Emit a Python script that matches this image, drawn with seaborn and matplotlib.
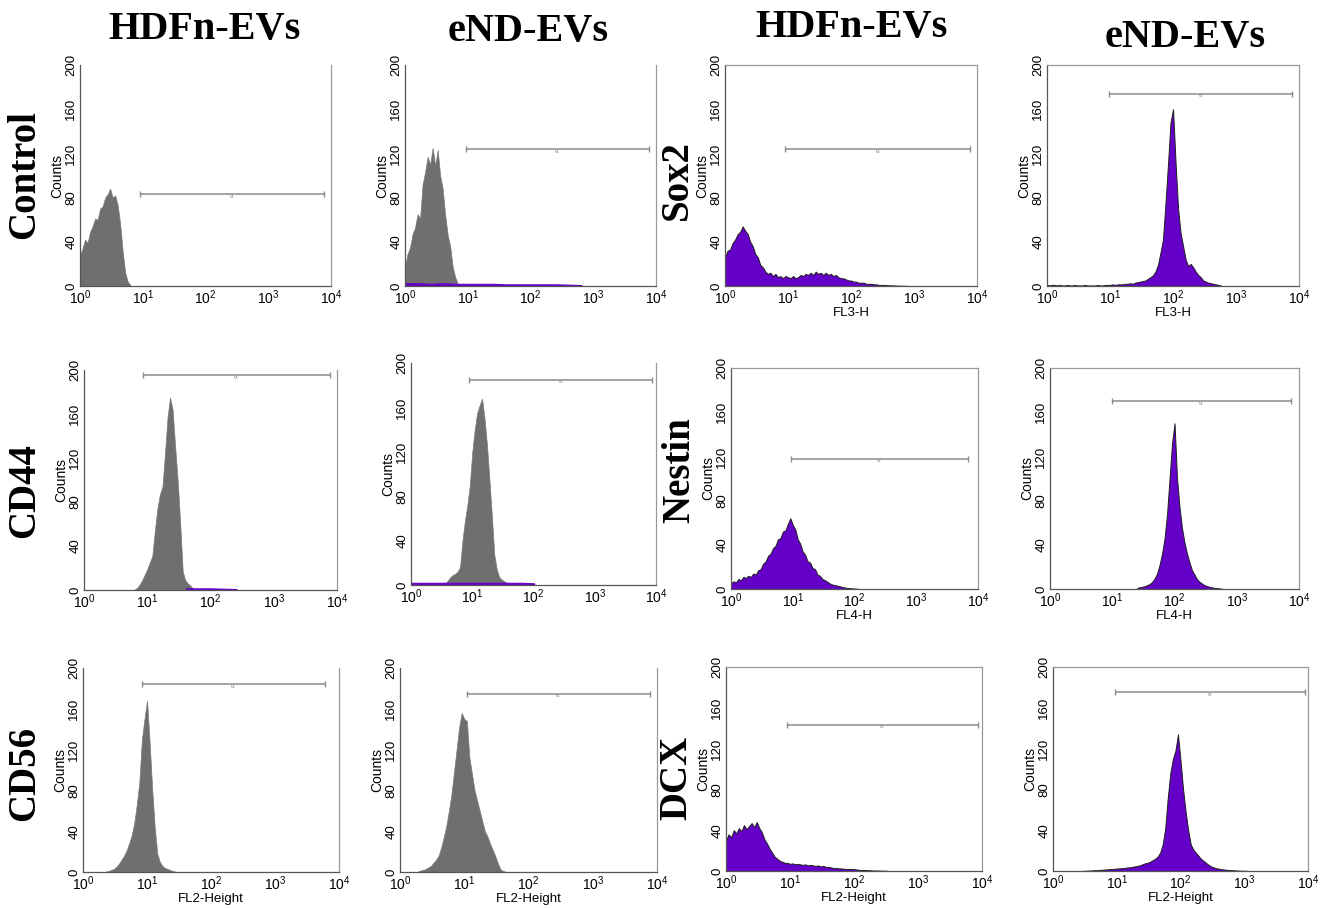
import numpy as np
import pandas as pd
import matplotlib
matplotlib.use("Agg")
import matplotlib.pyplot as plt
import seaborn as sns

# ---------------- data (log10 position of first bin + counts per 0.04-decade bin) -------------
BIN = 0.04

ctrl_hdfn_start = 0.00
ctrl_hdfn = [28, 34, 42, 39, 49, 54, 61, 60, 70, 72, 80, 83, 88, 80, 82, 73, 56, 31, 12, 4, 1]

ctrl_end_start = 0.00
ctrl_end = [18, 29, 35, 47, 53, 65, 61, 92, 103, 117, 110, 125, 109, 123, 100, 88, 64, 46, 36, 17, 8, 2]

sox2_hdfn_start = 0.00
sox2_hdfn = [26, 32, 33, 39, 42, 47, 49, 54, 50, 47, 40, 36, 29, 26, 19, 17, 13, 11, 12, 9,
             11, 8, 9, 7, 9, 8, 7, 9, 7, 8, 10, 9, 11, 10, 12, 10, 13, 11, 12, 10,
             12, 10, 11, 9, 10, 8, 7, 7, 6, 5, 5, 4, 4, 3, 3, 3, 2, 2, 2, 1.5,
             1.5, 1, 1, 1, 0.8, 0.6, 0.6, 0.5, 0.4, 0.3, 0.3, 0.2, 0.2, 0.1]

sox2_end_start = 0.00
sox2_end = [1, 0.5, 1, 1, 0.5, 1, 0.5, 0.5, 1, 0.5, 0.5, 1, 0.5, 0.5, 0.5, 1, 0.5, 0.5, 0.5, 0.5,
            1, 0.5, 0.5, 1, 1, 1, 1.5, 1, 1.5, 1.5,
            1.5, 2, 2, 2.5, 2, 3, 3.5, 4, 4.5, 5, 6.5, 8, 9.5, 13, 19, 30, 42, 75, 110, 148,
            160, 112, 70, 48, 36, 24, 18, 20, 17, 13, 10, 8, 5, 4, 3, 2.5, 2, 1.5, 1, 0.5]

cd44_hdfn_start = 0.80
cd44_hdfn = [0.5, 2, 5, 9, 14, 19, 25, 31, 54, 74, 87, 94, 124, 157, 175, 164, 131, 100, 61, 17,
             9, 6, 4, 1.5, 0.5]

cd44_end_start = 0.52
cd44_end = [0.3, 1, 4, 7, 9, 10, 12, 16, 40, 58, 72, 90, 120, 140, 155, 162, 168, 150, 126, 95,
            62, 27, 14, 7, 5, 3.5, 2, 1, 0.3]

nestin_hdfn_start = 0.00
nestin_hdfn = [5, 7, 6, 9, 8, 11, 10, 12, 11, 14, 13, 17, 18, 23, 25, 30, 32, 37, 39, 45,
               46, 52, 53, 59, 64, 58, 54, 45, 41, 34, 31, 25, 24, 19, 18, 13, 12, 9, 8, 6.5,
               5, 4, 3.6, 3, 2.5, 1.8, 1.4, 1, 0.8, 0.6, 0.4, 0.3]

nestin_end_start = 1.40
nestin_end = [1, 1.5, 2, 2.5, 3.5, 4.5, 6.5, 9.5, 14, 22, 32, 46, 68, 100, 132, 150, 100, 74, 55, 42,
              32, 24, 17, 13, 9, 6.5, 5, 3.5, 2.7, 2, 1.5, 1, 0.8, 0.6, 0.3]

cd56_hdfn_start = 0.36
cd56_hdfn = [0.5, 1, 2, 3, 5, 8, 12, 16, 21, 28, 36, 48, 66, 88, 130, 150, 168, 128, 82, 44,
             18, 10, 6, 4, 3, 2, 1, 0.5]

cd56_end_start = 0.28
cd56_end = [0.5, 1.5, 2, 3, 4.5, 6, 9, 12, 16, 24, 34, 45, 60, 76, 98, 120, 142, 156, 150, 148,
            112, 96, 80, 70, 60, 50, 40, 35, 28, 22, 16, 9, 3, 1, 0.5]

dcx_hdfn_start = 0.00
dcx_hdfn = [30, 36, 33, 40, 37, 42, 39, 45, 41, 44, 47, 43, 48, 42, 38, 31, 27, 22, 18, 14,
            12, 10, 9, 8, 8, 7, 7.5, 6.5, 7, 6.5, 6, 6.5, 5.5, 6, 5.5, 5, 5.5, 4.5, 5, 4,
            4, 3.5, 3, 3, 2.6, 2.5, 2.2, 2, 2, 2, 1.8, 1.5, 1.2, 1, 1, 0.9, 0.8, 0.6, 0.5, 0.5,
            0.4, 0.3, 0.3, 0.2]

dcx_end_start = 0.48
dcx_end = [0.3, 0.3, 0.5, 0.5, 0.8, 0.8, 1, 1.2, 1.4, 1.6, 1.8, 2, 2.2, 2.4, 2.6, 2.8, 3, 3.4, 3.6, 4,
           4.5, 5, 5.5, 6.5, 7.5, 8, 9, 10.5, 12, 14, 18, 26, 42, 72, 96, 110, 118, 134, 108, 80,
           58, 40, 26, 21, 18, 15, 12, 10, 8, 6, 4.5, 3.5, 2.7, 2.2, 1.8, 1.5, 1.2, 1, 0.8, 0.7,
           0.5, 0.4, 0.3, 0.3, 0.2]

# faint isotype overlay traces near zero (step 0.2 decade)
BG_BIN = 0.2
ctrl_end_bg_start = 0.0
ctrl_end_bg = [2.5, 2.5, 2, 2.5, 2, 2, 2, 2, 1.5, 1.5, 1.5, 1.5, 1.5, 1.2, 0.8]
cd44_hdfn_bg_start = 1.6
cd44_hdfn_bg = [1.5, 1.5, 1.5, 1.2, 0.8]
cd44_end_bg_start = 0.0
cd44_end_bg = [2, 2, 2, 2, 2, 2, 2, 2, 2, 2, 1.5]

# gates (log10 low, log10 high, counts level), panel order row by row
gate_lo = [0.96, 0.97, 0.96, 0.99, 0.93, 0.95, 0.97, 0.99, 0.92, 1.04, 0.96, 0.97]
gate_hi = [3.89, 3.89, 3.89, 3.89, 3.89, 3.94, 3.84, 3.87, 3.78, 3.89, 3.93, 3.95]
gate_y = [83, 124, 124, 174, 195, 185, 118, 170, 184, 175, 143.5, 175.5]

col_titles = ["HDFn-EVs", "eND-EVs", "HDFn-EVs", "eND-EVs"]
row_labels_left = ["Control", "CD44", "CD56"]
row_labels_right = ["Sox2", "Nestin", "DCX"]
xlabels = [None, None, "FL3-H", "FL3-H",
           None, None, "FL4-H", "FL4-H",
           "FL2-Height", "FL2-Height", "FL2-Height", "FL2-Height"]
y_ticks = [0, 40, 80, 120, 160, 200]

# ---------------- style ----------------
sns.set_theme(style="white")
plt.rcParams["font.family"] = ["Liberation Sans", "DejaVu Sans"]
plt.rcParams["mathtext.fontset"] = "custom"
plt.rcParams["mathtext.rm"] = "Liberation Sans"
plt.rcParams["mathtext.it"] = "Liberation Sans:italic"
plt.rcParams["mathtext.default"] = "regular"
plt.rcParams["text.color"] = "black"
plt.rcParams["axes.labelcolor"] = "black"

W, H = 1326, 908
fig = plt.figure(figsize=(W / 100, H / 100), dpi=100)
fig.patch.set_facecolor("white")

GRAY = "#6f6f6f"
PURPLE = "#6400c8"

# axes boxes in pixels (x0, y0_top, x1, y1_bottom)
boxes = [
    (80, 65, 331, 286), (405, 65, 656, 286), (725, 65, 977, 286), (1047, 65, 1299, 286),
    (84, 370, 337, 590), (411, 363, 656, 585), (731, 368, 978, 589), (1050, 368, 1299, 589),
    (83, 668, 339, 872), (400, 668, 657, 872), (726, 667, 982, 871), (1053, 667, 1308, 871),
]
hists = [
    (ctrl_hdfn_start, ctrl_hdfn), (ctrl_end_start, ctrl_end),
    (sox2_hdfn_start, sox2_hdfn), (sox2_end_start, sox2_end),
    (cd44_hdfn_start, cd44_hdfn), (cd44_end_start, cd44_end),
    (nestin_hdfn_start, nestin_hdfn), (nestin_end_start, nestin_end),
    (cd56_hdfn_start, cd56_hdfn), (cd56_end_start, cd56_end),
    (dcx_hdfn_start, dcx_hdfn), (dcx_end_start, dcx_end),
]
bgs = {1: (ctrl_end_bg_start, ctrl_end_bg), 4: (cd44_hdfn_bg_start, cd44_hdfn_bg),
       5: (cd44_end_bg_start, cd44_end_bg)}


def draw_hist(ax, start, counts, step, color, edge, lw):
    counts = np.asarray(counts, dtype=float)
    logs = start + step * np.arange(len(counts))
    df = pd.DataFrame({"value": 10 ** logs, "count": counts})
    sns.histplot(data=df, x="value", weights="count", binwidth=step,
                 binrange=(start - step / 2, logs[-1] + step / 2), log_scale=True,
                 element="poly", fill=True, color=color, alpha=1.0,
                 edgecolor=edge, linewidth=lw, ax=ax)


for i, (box, (start, counts)) in enumerate(zip(boxes, hists)):
    x0, y0, x1, y1 = box
    ax = fig.add_axes([x0 / W, 1 - y1 / H, (x1 - x0) / W, (y1 - y0) / H])
    col = i % 4
    purple = col >= 2
    if purple:
        draw_hist(ax, start, counts, BIN, PURPLE, "#1e1e1e", 0.7)
    else:
        draw_hist(ax, start, counts, BIN, GRAY, "#7a7a7a", 0.5)
    if i in bgs:
        bs, bc = bgs[i]
        draw_hist(ax, bs, bc, BG_BIN, PURPLE, PURPLE, 0.8)

    ax.set_xscale("log")
    ax.set_xlim(1, 1e4)
    ax.set_ylim(0, 200)
    ax.set_yticks(y_ticks)
    ax.set_yticks(np.arange(0, 201, 8), minor=True)
    ax.tick_params(axis="y", which="major", labelrotation=90, labelsize=9.5, direction="in",
                   length=3, width=0.6, colors="#444444", labelcolor="black", pad=2)
    ax.tick_params(axis="y", which="minor", direction="in", length=1.5, width=0.5, colors="#888888")
    ax.tick_params(axis="x", which="major", labelsize=10, direction="in", length=3, width=0.6,
                   colors="#444444", labelcolor="black", pad=2)
    ax.tick_params(axis="x", which="minor", direction="in", length=1.5, width=0.5, colors="#888888")
    for lab in ax.get_yticklabels():
        lab.set_va("center")

    ax.set_ylabel("Counts", fontsize=10, color="black", labelpad=1)
    if xlabels[i]:
        ax.set_xlabel(xlabels[i], fontsize=9.5, color="black", labelpad=0)
    else:
        ax.set_xlabel("")

    for side in ["left", "bottom"]:
        ax.spines[side].set_color("#555555")
        ax.spines[side].set_linewidth(0.9)
    ax.spines["right"].set_color("#999999")
    ax.spines["right"].set_linewidth(0.9)
    if purple:
        ax.spines["top"].set_color("#999999")
        ax.spines["top"].set_linewidth(0.9)
    else:
        ax.spines["top"].set_visible(False)

    # gate marker
    lo, hi, gy = 10 ** gate_lo[i], 10 ** gate_hi[i], gate_y[i]
    ax.plot([lo, hi], [gy, gy], color="#8c8c8c", lw=1.1, solid_capstyle="butt", zorder=5)
    ax.plot([lo, hi], [gy, gy], linestyle="none", marker="|", markersize=5,
            markeredgewidth=1.0, color="#8c8c8c", zorder=5)
    ax.text(10 ** ((gate_lo[i] + gate_hi[i]) / 2), gy - 2.5, "M1", fontsize=2.5,
            color="#888888", ha="center", va="center")

# column titles
title_pos = [(205, 30), (528, 32), (852, 28), (1185, 38)]
for t, (tx, ty) in zip(col_titles, title_pos):
    fig.text(tx / W, 1 - ty / H, t, fontsize=29, fontweight="bold", color="black",
             family=["Liberation Serif", "DejaVu Serif"], ha="center", va="center")

# row labels
left_pos = [(25, 175), (25, 491), (25, 773)]
right_pos = [(677, 180), (680, 470), (677, 778)]
for t, (tx, ty) in zip(row_labels_left, left_pos):
    fig.text(tx / W, 1 - ty / H, t, fontsize=28, fontweight="bold", rotation=90, color="black",
             family=["Liberation Serif", "DejaVu Serif"], ha="center", va="center")
for t, (tx, ty) in zip(row_labels_right, right_pos):
    fig.text(tx / W, 1 - ty / H, t, fontsize=28, fontweight="bold", rotation=90, color="black",
             family=["Liberation Serif", "DejaVu Serif"], ha="center", va="center")

fig.savefig("out.png", dpi=100, facecolor="white")
